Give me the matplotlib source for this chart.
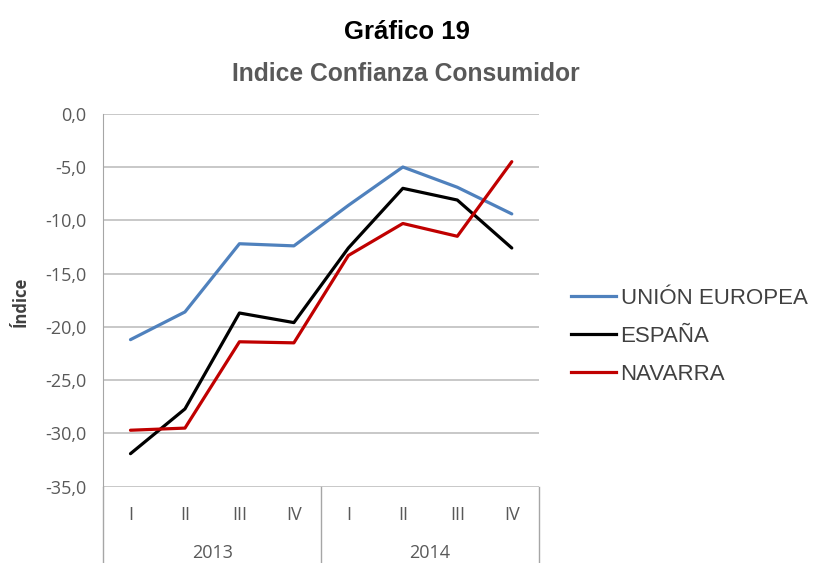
import numpy as np
import matplotlib.pyplot as plt
import matplotlib.transforms as mtransforms
from matplotlib.lines import Line2D

quarters = ['I', 'II', 'III', 'IV', 'I', 'II', 'III', 'IV']
years = ['2013', '2014']
ue = [-21.2, -18.6, -12.2, -12.4, -8.6, -5.0, -6.9, -9.4]
espana = [-31.9, -27.7, -18.7, -19.6, -12.6, -7.0, -8.1, -12.6]
navarra = [-29.7, -29.5, -21.4, -21.5, -13.3, -10.3, -11.5, -4.5]
series = [('UNIÓN EUROPEA', ue, '#4F81BD'),
          ('ESPAÑA', espana, '#000000'),
          ('NAVARRA', navarra, '#C00000')]

grey = '#595959'
plt.rcParams['font.family'] = ['Liberation Sans', 'DejaVu Sans']

fig = plt.figure(figsize=(8.13, 5.63), dpi=100)
ax = fig.add_axes([0.127, 0.1355, 0.536, 0.6625])

x = np.arange(len(quarters))
for name, vals, col in series:
    ax.plot(x, vals, color=col, lw=2.3, label=name, solid_capstyle='round')

ax.set_xlim(-0.5, 7.5)
ax.set_ylim(-35, 0)
yt = np.arange(-35, 1, 5)
ax.set_yticks(yt)
ax.set_yticklabels([('%.1f' % v).replace('.', ',') for v in yt],
                   fontfamily='Open Sans', fontsize=13, color=grey)
ax.tick_params(axis='y', length=0, pad=12)
ax.set_xticks([])
ax.yaxis.grid(True, color='#BFBFBF', lw=1.2)
ax.set_axisbelow(True)
for s in ['top', 'right', 'bottom']:
    ax.spines[s].set_visible(False)
ax.spines['left'].set_color('#A6A6A6')

# category table below the axis
trans = mtransforms.blended_transform_factory(ax.transData, ax.transAxes)
for xb in [-0.5, 3.5, 7.5]:
    ax.plot([xb, xb], [0, -0.33], color='#A6A6A6', lw=1.0, transform=trans, clip_on=False)
for i, q in enumerate(quarters):
    ax.text(i, -0.077, q, transform=trans, ha='center', va='center',
            fontfamily='Open Sans', fontsize=13, color=grey)
for j, yr in enumerate(years):
    ax.text(1.5 + 4 * j, -0.178, yr, transform=trans, ha='center', va='center',
            fontfamily='Open Sans', fontsize=13, color=grey)

ax.set_ylabel('Índice', fontfamily='Open Sans', fontsize=12, fontweight='bold',
              color='#404040')
ax.yaxis.set_label_coords(-0.17, 0.495)

fig.text(0.5, 0.943, 'Gráfico 19', ha='center', va='center',
         fontsize=18.5, fontweight='bold', color='black')
fig.text(0.499, 0.869, 'Indice Confianza Consumidor', ha='center', va='center',
         fontsize=17.7, fontweight='bold', color=grey)

handles = [Line2D([0], [0], color=c, lw=2.3) for _, _, c in series]
fig.legend(handles, [n for n, _, _ in series], loc='upper left',
           bbox_to_anchor=(0.678, 0.524), frameon=False, fontsize=16,
           labelcolor='#404040', handlelength=2.0, handletextpad=0.22,
           labelspacing=0.76)

fig.savefig('out.png', dpi=100)
